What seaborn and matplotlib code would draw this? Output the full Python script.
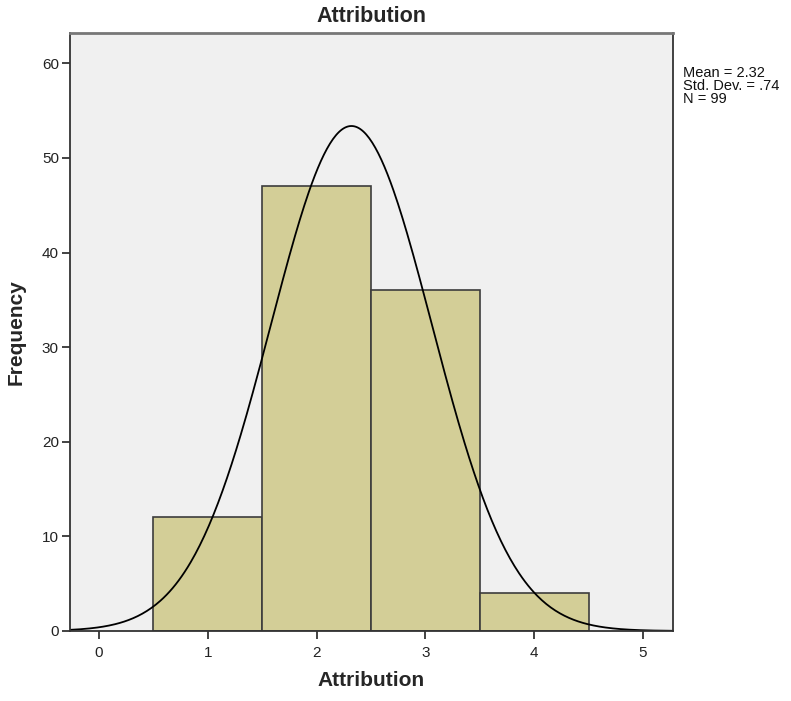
import numpy as np
import pandas as pd
import matplotlib
matplotlib.use('Agg')
import matplotlib.pyplot as plt
import seaborn as sns

# Histogram counts
bin_centers = [1, 2, 3, 4]
counts = [12, 47, 36, 4]
bin_edges = [0.5, 1.5, 2.5, 3.5, 4.5]

# Summary shown in the legend box
mean = 2.32
std_dev = 0.74
n = 99

x_ticks = [0, 1, 2, 3, 4, 5]
y_ticks = [0, 10, 20, 30, 40, 50, 60]

sns.set_style('ticks')
plt.rcParams['font.family'] = ['Liberation Sans', 'DejaVu Sans']

df = pd.DataFrame({'Attribution': bin_centers, 'count': counts})

fig = plt.figure(figsize=(7.91, 7.01), dpi=100)
ax = fig.add_axes([0.0885, 0.0999, 0.7623, 0.853])
ax.set_facecolor('#f0f0f0')

sns.histplot(data=df, x='Attribution', weights='count', bins=bin_edges,
             color='#d3ce97', edgecolor='#3c3c3c', linewidth=1.2, alpha=1, ax=ax)

# normal curve scaled to counts (bin width 1)
xs = np.linspace(-0.27, 5.28, 400)
ys = n / (std_dev * np.sqrt(2 * np.pi)) * np.exp(-0.5 * ((xs - mean) / std_dev) ** 2)
sns.lineplot(x=xs, y=ys, color='black', linewidth=1.3, ax=ax)

ax.set_xlim(-0.267, 5.276)
ax.set_ylim(0, 63.2)
ax.set_xticks(x_ticks)
ax.set_yticks(y_ticks)
ax.tick_params(axis='both', direction='out', length=6, width=1.2, color='#222222',
               labelsize=11, labelcolor='#222222', pad=2, bottom=True, left=True)
ax.tick_params(axis='x', pad=5)
for side in ['left', 'bottom', 'right']:
    ax.spines[side].set_visible(True)
    ax.spines[side].set_color('#333333')
    ax.spines[side].set_linewidth(1.3)
ax.spines['top'].set_visible(True)
ax.spines['top'].set_color('#777777')
ax.spines['top'].set_linewidth(2)

ax.set_xlabel('Attribution', fontsize=15, fontweight='bold', labelpad=8)
ax.set_ylabel('Frequency', fontsize=15, fontweight='bold', labelpad=12)
ax.set_title('Attribution', fontsize=15.5, fontweight='bold', pad=8)

fig.text(683 / 791, 1 - 66 / 701,
         f'Mean = {mean:.2f}\nStd. Dev. = {str(std_dev)[1:]}\nN = {n}',
         fontsize=10.5, va='top', ha='left', linespacing=0.92, color='#111111')

fig.savefig('out.png', dpi=100)
